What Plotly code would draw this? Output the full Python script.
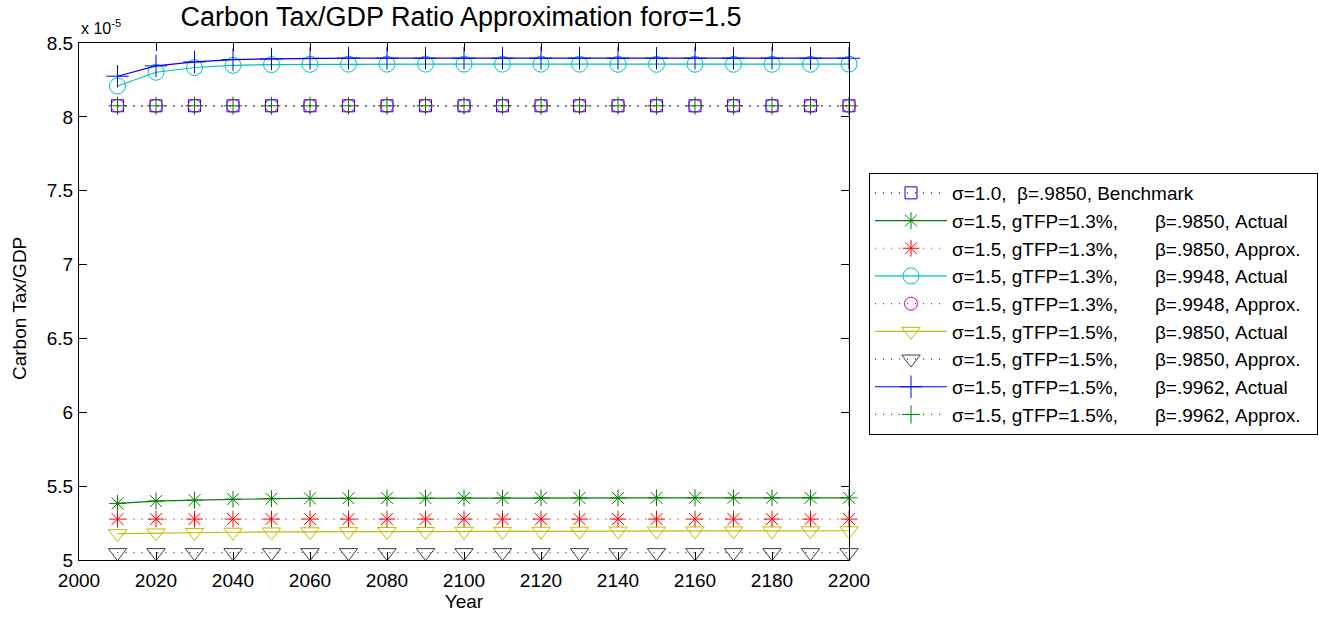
import plotly.graph_objects as go

years = list(range(2010, 2201, 10))

# values in units of 1e-5
benchmark = [8.075] * 20
g13_9850_actual = [5.383, 5.399, 5.405, 5.412, 5.415, 5.417, 5.418, 5.419, 5.419, 5.420,
                   5.420, 5.420, 5.420, 5.420, 5.421, 5.421, 5.421, 5.421, 5.421, 5.421]
g13_9850_approx = [5.277] * 20
g13_9948_actual = [8.209, 8.302, 8.334, 8.349, 8.354, 8.356, 8.357, 8.357, 8.357, 8.357,
                   8.357, 8.357, 8.357, 8.356, 8.356, 8.356, 8.356, 8.356, 8.356, 8.357]
g13_9948_approx = [8.075] * 20
g15_9850_actual = [5.178, 5.183, 5.186, 5.188, 5.190, 5.191, 5.192, 5.193, 5.193, 5.194,
                   5.194, 5.195, 5.195, 5.196, 5.196, 5.197, 5.197, 5.197, 5.198, 5.198]
g15_9850_approx = [5.050] * 20
g15_9962_actual = [8.275, 8.345, 8.372, 8.388, 8.392, 8.396, 8.397, 8.397, 8.397, 8.397,
                   8.397, 8.397, 8.397, 8.397, 8.397, 8.397, 8.397, 8.397, 8.397, 8.397]
g15_9962_approx = [8.075] * 20

NB = "\u00a0"
names = [
    "σ=1.0," + NB * 2 + "β=.9850, Benchmark",
    "σ=1.5, gTFP=1.3%," + NB * 7 + "β=.9850, Actual",
    "σ=1.5, gTFP=1.3%," + NB * 7 + "β=.9850, Approx." + NB * 2,
    "σ=1.5, gTFP=1.3%," + NB * 7 + "β=.9948, Actual",
    "σ=1.5, gTFP=1.3%," + NB * 7 + "β=.9948, Approx.",
    "σ=1.5, gTFP=1.5%," + NB * 7 + "β=.9850, Actual",
    "σ=1.5, gTFP=1.5%," + NB * 7 + "β=.9850, Approx.",
    "σ=1.5, gTFP=1.5%," + NB * 7 + "β=.9962, Actual",
    "σ=1.5, gTFP=1.5%," + NB * 7 + "β=.9962, Approx.",
]
series = [benchmark, g13_9850_actual, g13_9850_approx, g13_9948_actual, g13_9948_approx,
          g15_9850_actual, g15_9850_approx, g15_9962_actual, g15_9962_approx]
colors = ["#0000FF", "#008000", "#FF0000", "#00BFBF", "#BF00BF", "#BFBF00", "#404040",
          "#0000FF", "#008000"]
symbols = ["square-open", "asterisk-open", "asterisk-open", "circle-open", "circle-open",
           "triangle-down-open", "triangle-down-open", "cross-thin-open", "cross-thin-open"]
sizes = [12, 14, 14, 16, 13, 16, 16, 16, 13]
dashes = ["1px,7px", "solid", "1px,7px", "solid", "1px,7px", "solid", "1px,7px", "solid", "1px,7px"]

fig = go.Figure()
for i in range(9):
    fig.add_trace(go.Scatter(
        x=years, y=series[i], name=names[i], mode="lines+markers",
        line=dict(color=colors[i], width=1.2, dash=dashes[i]),
        marker=dict(symbol=symbols[i], size=sizes[i], color=colors[i],
                    line=dict(color=colors[i], width=1)),
        cliponaxis=False, legendgroup=f"g{i}",
    ))

FONT = "Liberation Sans, Arial, sans-serif"
fig.update_layout(
    width=1319, height=617,
    margin=dict(l=79, r=470, t=43, b=57, autoexpand=False),
    paper_bgcolor="white", plot_bgcolor="white",
    font=dict(family=FONT, size=18, color="black"),
    title=dict(text="Carbon Tax/GDP Ratio Approximation forσ=1.5", x=(165 + 757) / 2 / 1319,
               xanchor="center", y=1 - 17 / 617, yanchor="middle",
               font=dict(size=27, family=FONT)),
    showlegend=True,
    legend=dict(x=(869 - 79) / 770, y=(560 - 173) / 517, xanchor="left", yanchor="top",
                bordercolor="black", borderwidth=1, bgcolor="white",
                font=dict(size=19, family=FONT), itemwidth=72,
                tracegroupgap=0, traceorder="grouped"),
    xaxis=dict(range=[2000, 2200], tickmode="linear", tick0=2000, dtick=20,
               ticks="inside", ticklen=8, tickcolor="black", showline=True,
               linecolor="black", linewidth=1, mirror="ticks", showgrid=False,
               zeroline=False, ticklabelstandoff=3,
               title=dict(text="Year", standoff=1, font=dict(size=19)),
               tickfont=dict(size=19), automargin=False),
    yaxis=dict(range=[5, 8.5], tickmode="linear", tick0=5, dtick=0.5,
               ticks="inside", ticklen=8, tickcolor="black", showline=True,
               linecolor="black", linewidth=1, mirror="ticks", showgrid=False,
               zeroline=False, ticklabelstandoff=1,
               tickfont=dict(size=19), automargin=False),
)
fig.add_annotation(text="Carbon Tax/GDP", xref="paper", yref="paper",
                   x=(20 - 79) / 770, y=(560 - 309) / 517, xanchor="center", yanchor="middle",
                   textangle=-90, showarrow=False, font=dict(size=19, family=FONT))
fig.add_annotation(text="x 10<sup>-5</sup>", xref="paper", yref="paper", x=0, y=1,
                   xanchor="left", yanchor="bottom", yshift=4, showarrow=False,
                   font=dict(size=16, family=FONT))
fig.write_html("out.html")
